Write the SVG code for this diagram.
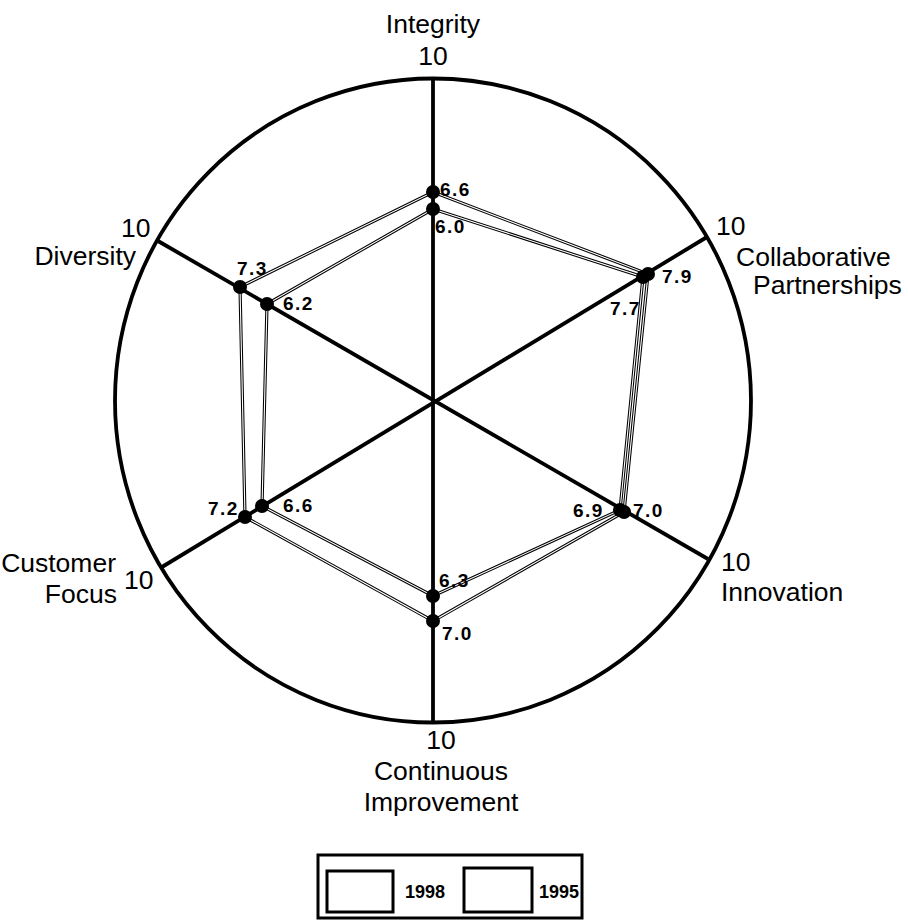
<svg xmlns="http://www.w3.org/2000/svg" width="908" height="923" viewBox="0 0 908 923">
<style>
.lbl{font-family:"Liberation Sans",Arial,sans-serif;font-size:26.5px;fill:#000}
.val{font-family:"Liberation Sans",Arial,sans-serif;font-size:19px;font-weight:bold;fill:#000;letter-spacing:1.5px}
.leg{font-family:"Liberation Sans",Arial,sans-serif;font-size:18px;font-weight:bold;fill:#000}
.axis{stroke:#000;stroke-width:3.8;fill:none}
.polyo{fill:none;stroke:#000;stroke-width:3.2;stroke-linejoin:miter}
.polyi{fill:none;stroke:#fff;stroke-width:1.1;stroke-linejoin:miter}
.dot{fill:#000}
</style>
<rect width="908" height="923" fill="#fff"/>
<g id="frame">
<ellipse cx="433" cy="400.5" rx="318" ry="322" class="axis"/>
</g>
<g id="connectors">
<line x1="433" y1="78.5" x2="433" y2="722.5" class="axis"/>
<line x1="158" y1="241" x2="708" y2="559" class="axis"/>
<line x1="162" y1="567" x2="707" y2="237" class="axis"/>
<polygon id="series1998" class="polyo" points="433,192 648,274 624,512 433,621 245,517 240,287"/>
<polygon class="polyi" points="433,192 648,274 624,512 433,621 245,517 240,287"/>
<polygon id="series1995" class="polyo" points="433,209 643,277 620,510 433,596 262,506 267,304"/>
<polygon class="polyi" points="433,209 643,277 620,510 433,596 262,506 267,304"/>
</g>
<g id="points">
<circle class="dot" cx="433" cy="192" r="7"/>
<circle class="dot" cx="433" cy="209" r="7"/>
<circle class="dot" cx="648" cy="274" r="7"/>
<circle class="dot" cx="643" cy="277" r="7"/>
<circle class="dot" cx="624" cy="512" r="7"/>
<circle class="dot" cx="620" cy="510" r="7"/>
<circle class="dot" cx="433" cy="621" r="7"/>
<circle class="dot" cx="433" cy="596" r="7"/>
<circle class="dot" cx="245" cy="517" r="7"/>
<circle class="dot" cx="262" cy="506" r="7"/>
<circle class="dot" cx="240" cy="287" r="7"/>
<circle class="dot" cx="267" cy="304" r="7"/>
</g>
<g id="node-integrity">
<text class="lbl" x="433" y="33" text-anchor="middle">Integrity</text>
<text class="lbl" x="433" y="65" text-anchor="middle">10</text>
<text class="val" x="440" y="196">6.6</text>
<text class="val" x="435" y="233">6.0</text>
</g>
<g id="node-collaborative">
<text class="lbl" x="716" y="235">10</text>
<text class="lbl" x="736" y="266">Collaborative</text>
<text class="lbl" x="753" y="294">Partnerships</text>
<text class="val" x="662" y="283">7.9</text>
<text class="val" x="610" y="315">7.7</text>
</g>
<g id="node-innovation">
<text class="lbl" x="721" y="571">10</text>
<text class="lbl" x="721" y="601">Innovation</text>
<text class="val" x="573" y="517">6.9</text>
<text class="val" x="633" y="517">7.0</text>
</g>
<g id="node-continuous">
<text class="lbl" x="441" y="749" text-anchor="middle">10</text>
<text class="lbl" x="441" y="780" text-anchor="middle">Continuous</text>
<text class="lbl" x="441" y="811" text-anchor="middle">Improvement</text>
<text class="val" x="439" y="587">6.3</text>
<text class="val" x="442" y="640">7.0</text>
</g>
<g id="node-customer">
<text class="lbl" x="116" y="572" text-anchor="end">Customer</text>
<text class="lbl" x="117" y="603" text-anchor="end">Focus</text>
<text class="lbl" x="124" y="589">10</text>
<text class="val" x="208" y="515">7.2</text>
<text class="val" x="283" y="512">6.6</text>
</g>
<g id="node-diversity">
<text class="lbl" x="121" y="237">10</text>
<text class="lbl" x="136" y="265" text-anchor="end">Diversity</text>
<text class="val" x="237" y="275">7.3</text>
<text class="val" x="283" y="310">6.2</text>
</g>
<g id="legend">
<rect x="318" y="855" width="264" height="63" fill="#fff" stroke="#000" stroke-width="3"/>
<rect x="327" y="871" width="66" height="41" fill="#fff" stroke="#000" stroke-width="3"/>
<text class="leg" x="405" y="898">1998</text>
<rect x="464" y="868" width="68" height="44" fill="#fff" stroke="#000" stroke-width="3"/>
<text class="leg" x="539" y="898">1995</text>
</g>
</svg>
